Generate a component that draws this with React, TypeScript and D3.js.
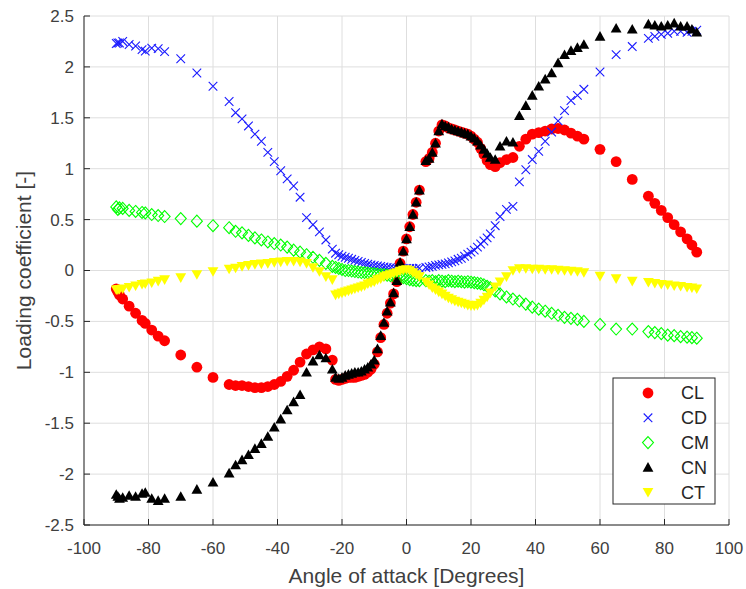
import React from "react";
import * as d3 from "d3";

// Angle of attack (degrees) at which every coefficient was measured
const ANGLE = [
  -90, -89.5, -89, -88, -86, -84, -82, -81, -79, -77, -75,
  -70, -65, -60,
  -55, -53, -51, -49, -47, -45, -43, -41, -39, -37, -35, -33, -31, -29, -27, -25, -23,
  -22, -21, -20, -19, -18, -17, -16, -15, -14, -13, -12, -11, -10, -9, -8, -7, -6, -5, -4, -3, -2, -1, 0, 1, 2, 3, 4,
  6, 7, 8, 9, 10, 11, 12, 13, 14, 15, 16, 17, 18, 19, 20, 21, 22, 23, 24, 25, 26,
  27.5, 29, 31, 33, 35, 37, 39, 41, 43, 45, 47, 49, 51, 53, 55,
  60, 65, 70,
  75, 77, 79, 81, 83, 85, 87, 88.5, 90,
];

// Lift coefficient
const CL = [
  -0.18, -0.21, -0.24, -0.28, -0.35, -0.42, -0.49, -0.52, -0.585, -0.645, -0.69,
  -0.83, -0.95, -1.05,
  -1.12, -1.13, -1.13, -1.14, -1.15, -1.15, -1.14, -1.12, -1.09, -1.04, -0.98, -0.9, -0.82, -0.78, -0.75, -0.77, -0.88,
  -1.07, -1.08, -1.07, -1.06, -1.05, -1.05, -1.05, -1.04, -1.03, -1.02, -1.0, -0.97, -0.92, -0.8, -0.66, -0.53, -0.42, -0.32, -0.23, -0.11, 0.07, 0.19, 0.31, 0.43, 0.55, 0.67, 0.79,
  1.07, 1.1, 1.16, 1.25, 1.37, 1.43, 1.42, 1.4, 1.39, 1.38, 1.37, 1.36, 1.35, 1.34, 1.32, 1.29, 1.26, 1.2, 1.14, 1.08, 1.04,
  1.02, 1.06, 1.09, 1.11, 1.22, 1.29, 1.34, 1.355, 1.37, 1.39, 1.395, 1.38, 1.35, 1.32, 1.29,
  1.19, 1.07, 0.895,
  0.73, 0.66, 0.59, 0.52, 0.45, 0.38, 0.31, 0.25, 0.18,
];

// Drag coefficient
const CD = [
  2.23, 2.235, 2.235, 2.25, 2.22, 2.205, 2.17, 2.155, 2.185, 2.18, 2.15,
  2.08, 1.94, 1.81,
  1.66, 1.55, 1.49, 1.42, 1.34, 1.27, 1.16, 1.07, 0.98, 0.9, 0.83, 0.72, 0.52, 0.45, 0.38, 0.3, 0.21,
  0.17, 0.155, 0.14, 0.13, 0.12, 0.11, 0.1, 0.09, 0.08, 0.07, 0.062, 0.055, 0.05, 0.045, 0.04, 0.035, 0.03, 0.028, 0.025, 0.022, 0.02, 0.02, 0.02, 0.02, 0.02, 0.02, 0.022,
  0.03, 0.035, 0.04, 0.05, 0.055, 0.06, 0.065, 0.075, 0.085, 0.095, 0.11, 0.12, 0.14, 0.16, 0.18, 0.2, 0.23, 0.26, 0.29, 0.32, 0.36,
  0.44, 0.53, 0.6, 0.63, 0.87, 0.99, 1.09, 1.17, 1.27, 1.36, 1.47, 1.57, 1.67, 1.72, 1.78,
  1.95, 2.12, 2.2,
  2.28, 2.3, 2.32, 2.33, 2.35, 2.35, 2.34, 2.35, 2.36,
];

// Pitching moment coefficient
const CM = [
  0.625, 0.6, 0.615, 0.61, 0.59, 0.58, 0.57, 0.565, 0.55, 0.54, 0.53,
  0.51, 0.485, 0.44,
  0.42, 0.385, 0.37, 0.345, 0.32, 0.3, 0.28, 0.265, 0.25, 0.23, 0.2, 0.18, 0.155, 0.13, 0.1, 0.07, 0.04,
  0.03, 0.02, 0.01, 0.0, 0.0, -0.005, -0.01, -0.015, -0.02, -0.02, -0.025, -0.03, -0.03, -0.035, -0.04, -0.04, -0.045, -0.05, -0.055, -0.06, -0.065, -0.07, -0.08, -0.09, -0.095, -0.1, -0.1,
  -0.1, -0.105, -0.1, -0.11, -0.1, -0.105, -0.11, -0.1, -0.105, -0.11, -0.105, -0.11, -0.115, -0.11, -0.115, -0.12, -0.125, -0.13, -0.14, -0.155, -0.17,
  -0.2, -0.23, -0.26, -0.28, -0.3, -0.33, -0.36, -0.38, -0.4, -0.42, -0.44, -0.46, -0.47, -0.48, -0.5,
  -0.53, -0.575, -0.575,
  -0.6, -0.61, -0.62, -0.635, -0.64, -0.65, -0.655, -0.66, -0.665,
];

// Normal force coefficient
const CN = [
  -2.2, -2.22, -2.24, -2.23, -2.21, -2.22, -2.19, -2.18, -2.24, -2.26, -2.24,
  -2.22, -2.15, -2.08,
  -1.99, -1.91, -1.86, -1.81, -1.75, -1.7, -1.63, -1.54, -1.46, -1.37, -1.29, -1.22, -1.0, -0.89, -0.83, -0.86, -0.97,
  -1.05, -1.06, -1.05, -1.03, -1.02, -1.01, -1.0, -1.0, -0.99, -0.97, -0.95, -0.92, -0.88, -0.77, -0.64, -0.51, -0.4, -0.31, -0.22, -0.1, 0.08, 0.19, 0.31, 0.43, 0.55, 0.67, 0.79,
  1.08, 1.1, 1.16, 1.25, 1.37, 1.44, 1.42, 1.41, 1.39, 1.38, 1.37, 1.36, 1.35, 1.34, 1.32, 1.3, 1.27, 1.23, 1.19, 1.15, 1.11,
  1.09, 1.22, 1.27, 1.26, 1.52, 1.62, 1.72, 1.81, 1.88, 1.94, 2.04, 2.12, 2.16, 2.19, 2.22,
  2.3, 2.38, 2.37,
  2.42, 2.41, 2.4, 2.41, 2.43, 2.4, 2.4, 2.37, 2.34,
];

// Tangential force coefficient
const CT = [
  -0.19, -0.19, -0.185, -0.18, -0.165, -0.15, -0.135, -0.13, -0.12, -0.105, -0.09,
  -0.07, -0.04, -0.01,
  0.015, 0.025, 0.04, 0.05, 0.06, 0.065, 0.07, 0.08, 0.085, 0.09, 0.09, 0.085, 0.07, 0.03, -0.01, -0.06, -0.09,
  -0.24, -0.23, -0.22, -0.21, -0.2, -0.19, -0.18, -0.17, -0.16, -0.15, -0.13, -0.12, -0.11, -0.09, -0.08, -0.06, -0.05, -0.04, -0.03, -0.02, -0.005, 0.005, 0.01, 0.0, -0.02, -0.04, -0.06,
  -0.11, -0.14, -0.17, -0.19, -0.21, -0.23, -0.25, -0.27, -0.285, -0.3, -0.31, -0.32, -0.33, -0.34, -0.345, -0.345, -0.34, -0.32, -0.29, -0.26, -0.22,
  -0.16, -0.11, -0.06, 0.0, 0.02, 0.02, 0.015, 0.015, 0.01, 0.01, 0.005, 0.0, -0.005, -0.01, -0.02,
  -0.055, -0.08, -0.105,
  -0.115, -0.125, -0.135, -0.14, -0.15, -0.155, -0.165, -0.17, -0.18,
];

const X_TICKS = [-100, -80, -60, -40, -20, 0, 20, 40, 60, 80, 100];
const Y_TICKS = [-2.5, -2, -1.5, -1, -0.5, 0, 0.5, 1, 1.5, 2, 2.5];
const SERIES_NAMES = ["CL", "CD", "CM", "CN", "CT"];

const W = 746;
const H = 589;
const M = { left: 84, right: 729, top: 16, bottom: 525 };
const FONT = "'Liberation Sans', Arial, Helvetica, sans-serif";
const AXIS_COLOR = "#262626";
const TEXT_COLOR = "#404040";

type MarkerKind = "circle" | "cross" | "diamond" | "up" | "down";

function Marker({ kind, cx, cy }: { kind: MarkerKind; cx: number; cy: number }) {
  switch (kind) {
    case "circle":
      return <circle cx={cx} cy={cy} r={5.4} fill="#ff0000" />;
    case "cross": {
      const s = 4.3;
      return (
        <path
          d={`M${cx - s},${cy - s}L${cx + s},${cy + s}M${cx - s},${cy + s}L${cx + s},${cy - s}`}
          stroke="#1a1aff"
          strokeWidth={1.1}
          fill="none"
        />
      );
    }
    case "diamond": {
      const w = 5.5, h = 6;
      return (
        <path
          d={`M${cx},${cy - h}L${cx + w},${cy}L${cx},${cy + h}L${cx - w},${cy}Z`}
          stroke="#00ff00"
          strokeWidth={1.1}
          fill="none"
        />
      );
    }
    case "up": {
      const w = 5.4, h = 9.6;
      return (
        <path
          d={`M${cx},${cy - h * 0.55}L${cx + w},${cy + h * 0.45}L${cx - w},${cy + h * 0.45}Z`}
          fill="#000000"
        />
      );
    }
    case "down": {
      const w = 5.4, h = 9.6;
      return (
        <path
          d={`M${cx},${cy + h * 0.55}L${cx + w},${cy - h * 0.45}L${cx - w},${cy - h * 0.45}Z`}
          fill="#ffff00"
        />
      );
    }
  }
  return null;
}

export default function App() {
  const x = d3.scaleLinear().domain([-100, 100]).range([M.left, M.right]);
  const y = d3.scaleLinear().domain([-2.5, 2.5]).range([M.bottom, M.top]);

  const series: { name: string; values: number[]; kind: MarkerKind }[] = [
    { name: SERIES_NAMES[0], values: CL, kind: "circle" },
    { name: SERIES_NAMES[1], values: CD, kind: "cross" },
    { name: SERIES_NAMES[2], values: CM, kind: "diamond" },
    { name: SERIES_NAMES[3], values: CN, kind: "up" },
    { name: SERIES_NAMES[4], values: CT, kind: "down" },
  ];

  const legend = { x0: 613, y0: 378, w: 102, h: 126, markerX: 648, textX: 681, row0: 393, rowStep: 24.8 };

  return (
    <svg
      width={W}
      height={H}
      style={{ position: "absolute", left: 0, top: 0, background: "#ffffff" }}
      fontFamily={FONT}
    >
      <rect width={W} height={H} fill="#ffffff" />

      {/* grid */}
      <g stroke="#dedede" strokeWidth={1}>
        {X_TICKS.map((t) => (
          <line key={`gx${t}`} x1={x(t)} x2={x(t)} y1={M.top} y2={M.bottom} />
        ))}
        {Y_TICKS.map((t) => (
          <line key={`gy${t}`} x1={M.left} x2={M.right} y1={y(t)} y2={y(t)} />
        ))}
      </g>

      {/* data markers */}
      {series.map((s) => (
        <g key={s.name}>
          {ANGLE.map((a, i) => (
            <Marker key={i} kind={s.kind} cx={x(a)} cy={y(s.values[i])} />
          ))}
        </g>
      ))}

      {/* axes */}
      <g stroke={AXIS_COLOR} strokeWidth={1} fill="none">
        <line x1={M.left} x2={M.left} y1={M.top} y2={M.bottom} />
        <line x1={M.left} x2={M.right} y1={M.bottom} y2={M.bottom} />
        {X_TICKS.map((t) => (
          <line key={`tx${t}`} x1={x(t)} x2={x(t)} y1={M.bottom} y2={M.bottom - 6} />
        ))}
        {Y_TICKS.map((t) => (
          <line key={`ty${t}`} x1={M.left} x2={M.left + 6} y1={y(t)} y2={y(t)} />
        ))}
      </g>

      {/* tick labels */}
      <g fill={TEXT_COLOR} fontSize={17}>
        {X_TICKS.map((t) => (
          <text key={`lx${t}`} x={x(t)} y={554} textAnchor="middle">
            {String(t)}
          </text>
        ))}
        {Y_TICKS.map((t) => (
          <text key={`ly${t}`} x={M.left - 10} y={y(t)} dy="0.35em" textAnchor="end">
            {String(t)}
          </text>
        ))}
      </g>

      {/* axis titles */}
      <text x={(M.left + M.right) / 2} y={583} textAnchor="middle" fontSize={21} fill={TEXT_COLOR}>
        Angle of attack [Degrees]
      </text>
      <text
        transform={`translate(31,${(M.top + M.bottom) / 2}) rotate(-90)`}
        textAnchor="middle"
        fontSize={21}
        fill={TEXT_COLOR}
      >
        Loading coefficient [-]
      </text>

      {/* legend */}
      <g>
        <rect x={legend.x0} y={legend.y0} width={legend.w} height={legend.h} fill="#ffffff" stroke={AXIS_COLOR} strokeWidth={1} />
        {series.map((s, i) => {
          const cy = legend.row0 + i * legend.rowStep;
          return (
            <g key={`lg${s.name}`}>
              <Marker kind={s.kind} cx={legend.markerX} cy={cy} />
              <text x={legend.textX} y={cy} dy="0.36em" fontSize={18} fill={AXIS_COLOR}>
                {s.name}
              </text>
            </g>
          );
        })}
      </g>
    </svg>
  );
}
